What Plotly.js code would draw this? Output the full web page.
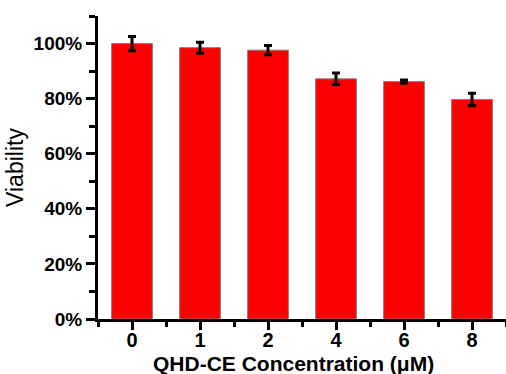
<!DOCTYPE html>
<html>
<head>
<meta charset="utf-8">
<script src="https://cdn.plot.ly/plotly-3.0.1.min.js"></script>
<style>html,body{margin:0;padding:0;background:#fff;}#chart{width:506px;height:374px;}</style>
</head>
<body>
<div id="chart"></div>
<script>
const concentrations = ['0', '1', '2', '4', '6', '8'];
const viability = [1.000, 0.985, 0.976, 0.872, 0.862, 0.797];
const viabilityErr = [0.026, 0.020, 0.017, 0.021, 0.006, 0.023];
const yTickVals = [0, 0.2, 0.4, 0.6, 0.8, 1.0];
const yTickText = ['0%', '20%', '40%', '60%', '80%', '100%'];
const xTitle = 'QHD-CE Concentration (μM)';
const yTitle = 'Viability';

const xIdx = concentrations.map((c, i) => i);
const minorX = concentrations.slice(0, -1).map((c, i) => i + 0.5).concat([-0.5, concentrations.length - 0.5]);

const trace = {
  type: 'bar',
  x: xIdx,
  y: viability,
  width: 0.6,
  marker: {color: '#ff0000', line: {color: '#7f7f7f', width: 1}},
  error_y: {type: 'data', array: viabilityErr, visible: true, color: '#000', thickness: 3, width: 4},
  hoverinfo: 'none'
};

const layout = {
  width: 506, height: 374,
  margin: {l: 98, r: 0, t: 16, b: 55},
  paper_bgcolor: '#fff', plot_bgcolor: '#fff',
  showlegend: false,
  font: {family: 'Liberation Sans, Arial, sans-serif', color: '#000'},
  xaxis: {
    range: [-0.5, 5.5],
    tickmode: 'array', tickvals: xIdx, ticktext: concentrations,
    ticks: 'outside', ticklen: 8, tickwidth: 3, tickcolor: '#000',
    ticklabelstandoff: -7,
    minor: {tickmode: 'array', tickvals: minorX, ticks: 'outside', ticklen: 5, tickwidth: 3, tickcolor: '#000'},
    showline: true, linewidth: 3, linecolor: '#000',
    showgrid: false, zeroline: false,
    tickfont: {family: 'Liberation Sans Narrow, Arial Narrow, sans-serif', size: 20, color: '#000', weight: 'bold'}
  },
  yaxis: {
    range: [0, 1.1],
    tickmode: 'array', tickvals: yTickVals, ticktext: yTickText,
    ticks: 'outside', ticklen: 9, tickwidth: 3, tickcolor: '#000',
    minor: {tickmode: 'array', tickvals: [0.1, 0.3, 0.5, 0.7, 0.9, 1.1], ticks: 'outside', ticklen: 6, tickwidth: 3, tickcolor: '#000'},
    showline: true, linewidth: 3, linecolor: '#000',
    showgrid: false, zeroline: false,
    tickfont: {family: 'Liberation Sans, Arial, sans-serif', size: 19, color: '#000', weight: 'bold'},
    title: {text: yTitle, font: {family: 'Liberation Sans, Arial, sans-serif', size: 23, color: '#000'}, standoff: 4}
  },
  annotations: [{
    text: xTitle, xref: 'paper', yref: 'paper', x: 0.48, y: 0, yshift: -44,
    xanchor: 'center', yanchor: 'middle', showarrow: false,
    font: {family: 'Liberation Sans, Arial, sans-serif', size: 21, color: '#000', weight: 'bold'}
  }]
};

Plotly.newPlot('chart', [trace], layout, {staticPlot: true, displayModeBar: false});
</script>
</body>
</html>
